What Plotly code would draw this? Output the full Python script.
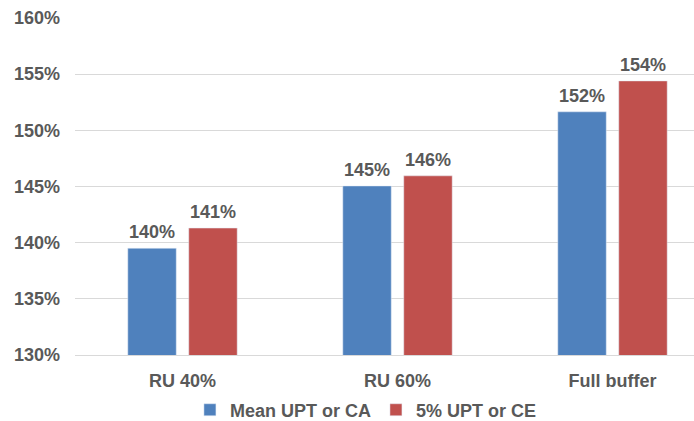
import plotly.graph_objects as go

categories = ["RU 40%", "RU 60%", "Full buffer"]
mean_upt_ca = [139.5, 145.05, 151.65]
upt5_ce = [141.3, 145.95, 154.4]
tick_vals = [130, 135, 140, 145, 150, 155, 160]
tick_text = [f"{v}%" for v in tick_vals]

FONT = "Liberation Sans, Arial, sans-serif"
TXT = "#595959"
BOLD = dict(family=FONT, size=18, color=TXT, weight="bold")

series = [
    ("Mean UPT or CA", mean_upt_ca, "#4F81BD"),
    ("5% UPT or CE", upt5_ce, "#C0504D"),
]

BARGAP = 0.433

fig = go.Figure()
for name, vals, color in series:
    fig.add_trace(go.Bar(
        name=name, x=categories, y=vals, marker_color=color,
        offsetgroup=name,
    ))

fig.update_layout(
    width=694, height=421,
    margin=dict(l=75, r=0, t=18, b=66),
    paper_bgcolor="white", plot_bgcolor="white",
    barmode="group", bargap=BARGAP, bargroupgap=0.205,
    font=BOLD,
    showlegend=True,
    legend=dict(orientation="h", x=0.47, xanchor="center",
                yref="container", y=0.026, yanchor="middle",
                font=BOLD, itemwidth=30, traceorder="normal"),
)

# value labels above each bar, rounded to whole percent
x_idx = {c: i for i, c in enumerate(categories)}
bar_offset = 0.5 * (1 - BARGAP) / 2  # centre of each bar's slot within the group
for k, (name, vals, color) in enumerate(series):
    sign = -1 if k == 0 else 1
    for c, v in zip(categories, vals):
        fig.add_annotation(
            x=x_idx[c] + sign * bar_offset, y=v, xref="x", yref="y",
            text=f"{v:.0f}%", showarrow=False, yanchor="bottom", yshift=4,
            font=BOLD,
        )

fig.update_yaxes(
    range=[130, 160], tickvals=tick_vals, ticktext=tick_text,
    showgrid=True, gridcolor="#D9D9D9", gridwidth=1,
    zeroline=False, showline=False, ticklabelstandoff=14,
    tickfont=BOLD,
)
fig.update_xaxes(
    type="category", range=[-0.5, -0.5 + 619 / 215],
    showline=True, linecolor="#D9D9D9", linewidth=1,
    ticklabelstandoff=9, tickfont=BOLD,
)

fig.write_html("out.html")
